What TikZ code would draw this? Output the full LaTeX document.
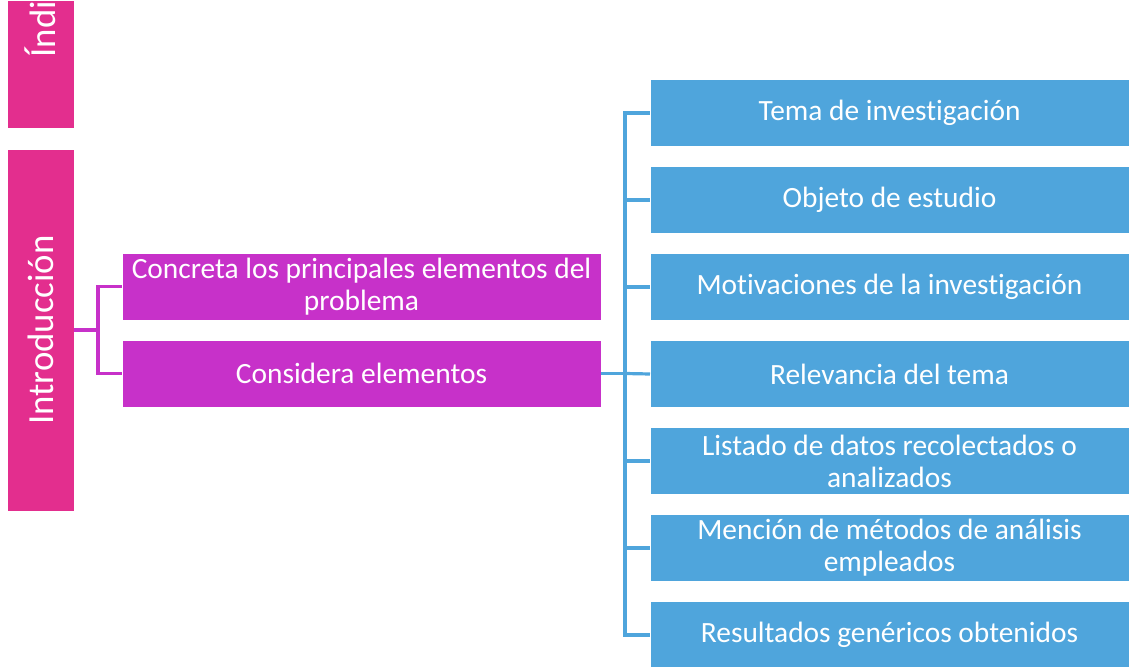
\documentclass[tikz,border=0pt]{standalone}
\usepackage{fontspec}
\setmainfont{Carlito}[RawFeature=-liga]
\usetikzlibrary{positioning}
\definecolor{rosa}{HTML}{E32E8E}
\definecolor{morado}{HTML}{C731C9}
\definecolor{azul}{HTML}{4FA5DC}

\begin{document}
\begin{tikzpicture}
[x=0.5pt,y=-0.5pt,
 every node/.style={text=white,inner sep=0pt,outer sep=0pt,font=\fontsize{14.7}{16}\selectfont},
 sec/.style={rectangle,fill=rosa,draw=white,thin,minimum height=33.5pt,font=\fontsize{18.4}{20}\selectfont},
 idea/.style={rectangle,fill=morado,draw=white,thin,minimum width=239.5pt,minimum height=33.5pt,align=center},
 item/.style={rectangle,fill=azul,draw=white,thin,minimum width=239.5pt,minimum height=33.5pt,align=center},
 lila/.style={morado,line width=1.6pt},
 celeste/.style={azul,line width=1.6pt}]
\useasboundingbox (0,0) rectangle (1129,667);

\node[sec,rotate=90,minimum width=64pt,text width=63pt,align=right] (indice) at (40.5,64) {Índi};
\node[sec,rotate=90,minimum width=181pt] (intro) at (40.5,330) {Introducción};

\node[idea] (concreta)  at (361.5,286.5) {Concreta los principales elementos del\\problema};
\node[idea] (considera) [on grid,below=43.5pt of concreta] {Considera elementos};

\node[item] (tema)   at (889.5,113) {Tema de investigación};
\node[item] (objeto) [on grid,below=43.5pt of tema]   {Objeto de estudio};
\node[item] (motiv)  [on grid,below=43.5pt of objeto] {Motivaciones de la investigación};
\node[item] (relev)  [on grid,below=43.5pt of motiv]  {Relevancia del tema};
\node[item] (datos)  [on grid,below=43.5pt of relev]  {Listado de datos recolectados o\\analizados};
\node[item] (metod)  [on grid,below=43.5pt of datos]  {Mención de métodos de análisis\\empleados};
\node[item] (result) [on grid,below=43.5pt of metod]  {Resultados genéricos obtenidos};

% rotated node: its south side faces right
\draw[lila] (intro.south) -- ++(24,0) coordinate (pm) |- (concreta.west);
\draw[lila] (pm) |- (considera.west);

\draw[celeste] (considera.east) -- ++(24,0) coordinate (pb);
\draw[celeste] (pb) |- (tema.west);
\draw[celeste] (pb) |- (objeto.west);
\draw[celeste] (pb) |- (motiv.west);
\draw[celeste] (pb) -- (relev.west);
\draw[celeste] (pb) |- (datos.west);
\draw[celeste] (pb) |- (metod.west);
\draw[celeste] (pb) |- (result.west);
\end{tikzpicture}
\end{document}
